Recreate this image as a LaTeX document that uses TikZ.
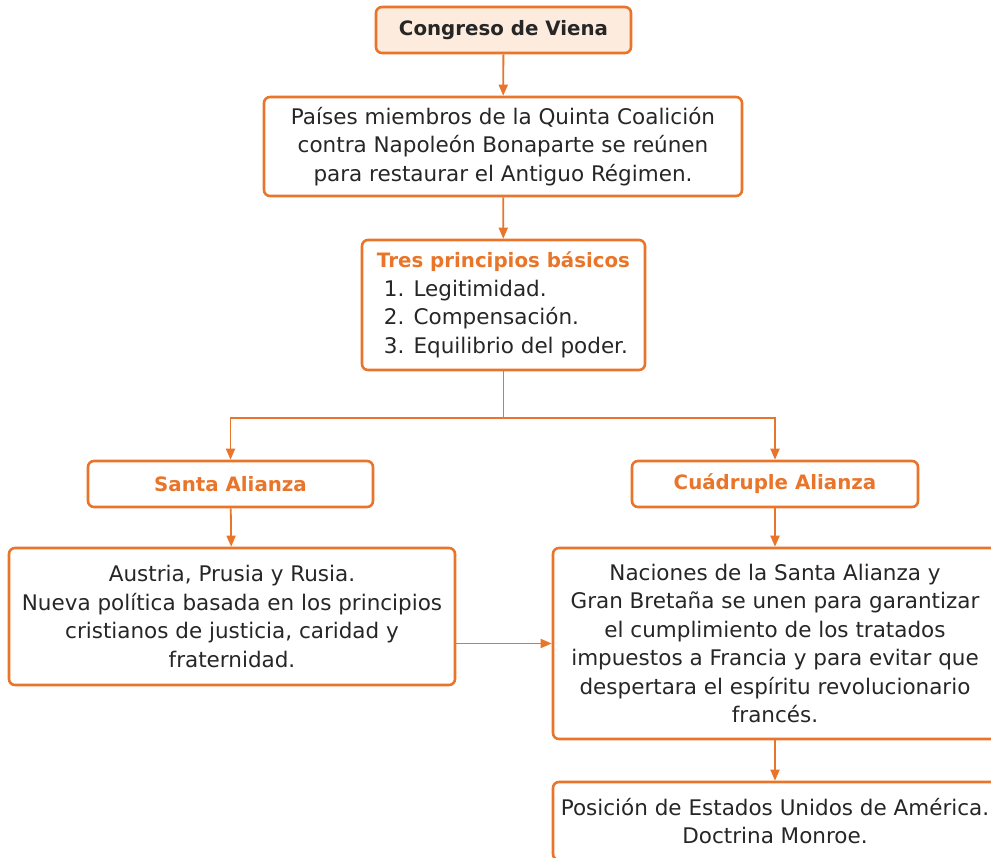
\documentclass[tikz,border=0pt]{standalone}
\usepackage{fontspec}
\setmainfont{DejaVu Sans}
\usetikzlibrary{arrows.meta,calc}
\definecolor{org}{HTML}{E8752A}
\definecolor{peach}{HTML}{FDEBDD}
\definecolor{txt}{HTML}{262626}
\newcommand{\bsize}{\fontsize{19.8}{28.5}\selectfont\bfseries}
\begin{document}
\begin{tikzpicture}[x=1pt,y=-1pt,
  box/.style={draw=org, line width=2.6pt, rounded corners=6pt, text=txt, align=center,
    inner sep=0pt, font=\fontsize{21.5}{28.5}\selectfont},
  ttl/.style={text=org, font=\bsize},
  conn/.style={draw=org, line width=1.8pt, -{Triangle[length=11pt,width=9pt]}},
  plain/.style={draw=org, line width=1.8pt}]
\useasboundingbox (0,0) rectangle (991,858);
\clip (0,0) rectangle (991,858);
\node[box, fill=peach, minimum width=255, minimum height=46, font=\bsize] (a) at (503.5,30) {Congreso de Viena};
\node[box, minimum width=478, minimum height=99] (b) at (503,146.5)
  {Países miembros de la Quinta Coalición\\contra Napoleón Bonaparte se reúnen\\para restaurar el Antiguo Régimen.};
\node[box, minimum width=283, minimum height=130] (c) at (503.5,305)
  {\begin{tabular}{@{}l@{}}\multicolumn{1}{@{}c@{}}{\textcolor{org}{\bsize Tres principios básicos}}\\
   \hspace{7pt}1. Legitimidad.\\ \hspace{7pt}2. Compensación.\\ \hspace{7pt}3. Equilibrio del poder.\end{tabular}};
\node[box, ttl, minimum width=285, minimum height=46] (d) at (230.5,484) {Santa Alianza};
\node[box, ttl, minimum width=286, minimum height=46] (e) at (775,484) {Cuádruple Alianza};
\node[box, minimum width=446, minimum height=137] (f) at (232,616.5)
  {Austria, Prusia y Rusia.\\Nueva política basada en los principios\\cristianos de justicia, caridad y\\fraternidad.};
\node[box, minimum width=444, minimum height=191] (g) at (775,643.5)
  {Naciones de la Santa Alianza y\\Gran Bretaña se unen para garantizar\\el cumplimiento de los tratados\\impuestos a Francia y para evitar que\\despertara el espíritu revolucionario\\francés.};
\node[box, minimum width=444, minimum height=78] (h) at (775,821)
  {Posición de Estados Unidos de América.\\Doctrina Monroe.};
\coordinate (j) at (503.5,418);
\draw[conn] (a) -- (b);
\draw[conn] (b) -- (c);
\draw[plain] (c.south) -- (j);
\draw[conn] (j) -| (d.north);
\draw[conn] (j) -| (e.north);
\draw[conn] (d) -- (f);
\draw[conn] (e) -- (g);
\draw[conn] (f.east |- g.west) -- (g.west);
\draw[conn] (g) -- (h);
\end{tikzpicture}
\end{document}
